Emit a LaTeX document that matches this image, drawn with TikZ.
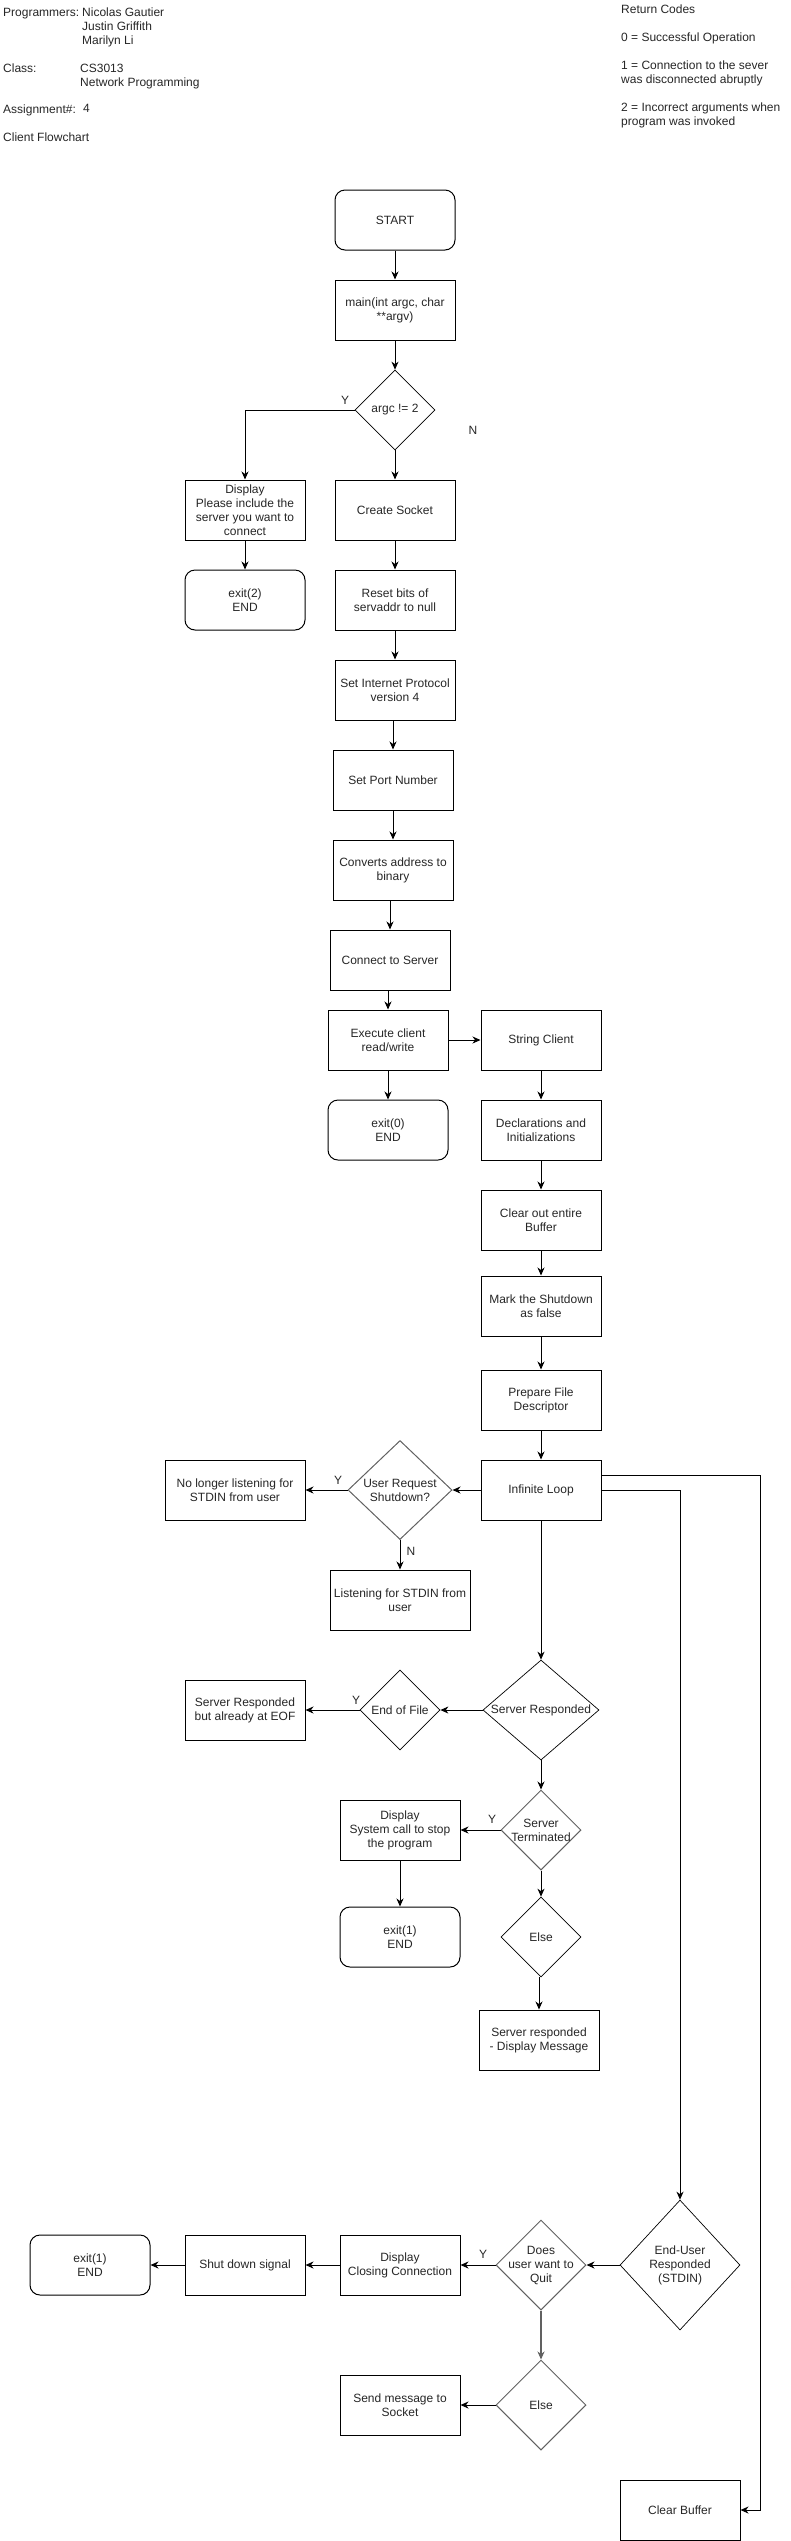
\documentclass[tikz,border=0pt]{standalone}
\usepackage{fontspec}
\setmainfont{Liberation Sans}
\usepackage{tikz}
\usetikzlibrary{shapes.geometric, arrows.meta}
\tikzstyle{startstop} = [rectangle, rounded corners=10pt, 
minimum width=120pt, 
minimum height=60pt,
text centered, align=center, inner sep=0pt,
draw=black, line width=1pt]
\tikzstyle{process} = [rectangle, 
minimum width=120pt, 
minimum height=60pt, 
text centered, align=center, inner sep=0pt,
draw=black, line width=1pt]
\tikzstyle{decision} = [diamond, 
minimum width=80pt, 
minimum height=80pt, 
text centered, align=center,
inner xsep=-15pt, inner ysep=0pt,
draw=black, line width=0.7pt]
\tikzstyle{graydecision} = [decision, draw=black!62, line width=1pt]
\tikzstyle{info} = [anchor=north west, align=left, inner sep=0pt]
\tikzstyle{arrow} = [line width=1pt,->,>={Stealth[length=8pt,width=7pt,inset=2.5pt]}]

\begin{document}
\begin{tikzpicture}[x=1pt, y=-1pt, node distance=90pt,
  font=\fontsize{12}{14}\selectfont, text=black!85]
\useasboundingbox (0,0) rectangle (791,2541);

% header
\node (prog) [info] at (3,8) {Programmers:};
\node (names) [info] at (82,8) {Nicolas Gautier\\Justin Griffith\\Marilyn Li};
\node (cls) [info] at (3,64) {Class:};
\node (course) [info] at (80,64) {CS3013\\Network Programming};
\node (asg) [info] at (3,104.5) {Assignment\#:};
\node (asgno) [info] at (83,104.5) {4};
\node (title) [info] at (3,133) {Client Flowchart};
\node (codes) [info] at (621,5) {Return Codes\\[14pt]0 = Successful Operation\\[14pt]1 = Connection to the sever\\was disconnected abruptly\\[14pt]2 = Incorrect arguments when\\program was invoked};

% setup
\node (start) [startstop] at (395,220) {START};
\node (main) [process, below of=start] {main(int argc, char\\**argv)};
\node (argc) [decision, node distance=100pt, below of=main] {argc != 2};
\node (sock) [process, node distance=100pt, below of=argc] {Create Socket};
\node (disp) [process, node distance=150pt, left of=sock] {Display\\Please include the\\server you want to\\connect};
\node (exit2) [startstop, below of=disp] {exit(2)\\END};
\node (reset) [process, below of=sock] {Reset bits of\\servaddr to null};
\node (ipv4) [process, below of=reset] {Set Internet Protocol\\version 4};
\node (port) [process, below of=ipv4, xshift=-2pt] {Set Port Number};
\node (conv) [process, below of=port] {Converts address to\\binary};
\node (conn) [process, below of=conv, xshift=-3pt] {Connect to Server};
\node (exec) [process, node distance=80pt, below of=conn, xshift=-2pt] {Execute client\\read/write};
\node (exit0) [startstop, below of=exec] {exit(0)\\END};

% string client
\node (strcli) [process, node distance=153pt, right of=exec] {String Client};
\node (decl) [process, below of=strcli] {Declarations and\\Initializations};
\node (clrbuf) [process, below of=decl] {Clear out entire\\Buffer};
\node (mark) [process, node distance=86pt, below of=clrbuf] {Mark the Shutdown\\as false};
\node (prepfd) [process, node distance=94pt, below of=mark] {Prepare File\\Descriptor};
\node (loop) [process, below of=prepfd] {Infinite Loop};

\node (usrshut) [graydecision, minimum width=104pt, minimum height=99pt, node distance=141pt, left of=loop] {User Request\\Shutdown?};
\node (nolisten) [process, minimum width=140pt, node distance=165pt, left of=usrshut] {No longer listening for\\STDIN from user};
\node (listen) [process, minimum width=140pt, node distance=110pt, below of=usrshut] {Listening for STDIN from\\user};

\node (srvresp) [decision, minimum width=116pt, minimum height=100pt, node distance=220pt, below of=loop] {Server Responded};
\node (eof) [decision, node distance=141pt, left of=srvresp] {End of File};
\node (eofmsg) [process, node distance=155pt, left of=eof] {Server Responded\\but already at EOF};
\node (srvterm) [graydecision, node distance=120pt, below of=srvresp] {Server\\Terminated};
\node (sysstop) [process, node distance=141pt, left of=srvterm] {Display\\System call to stop\\the program};
\node (exit1) [startstop, node distance=107pt, below of=sysstop] {exit(1)\\END};
\node (else1) [decision, node distance=107pt, below of=srvterm] {Else};
\node (dispmsg) [process, node distance=103pt, below of=else1, xshift=-2pt] {Server responded\\- Display Message};

\node (enduser) [decision, minimum width=120pt, minimum height=130pt] at (680,2265) {End-User\\Responded\\(STDIN)};
\node (quit) [graydecision, minimum width=90pt, minimum height=90pt, node distance=139pt, left of=enduser] {Does\\user want to\\Quit};
\node (closing) [process, node distance=141pt, left of=quit] {Display\\Closing Connection};
\node (shutsig) [process, node distance=155pt, left of=closing] {Shut down signal};
\node (exit1b) [startstop, node distance=155pt, left of=shutsig] {exit(1)\\END};
\node (else2) [graydecision, minimum width=90pt, minimum height=90pt, node distance=140pt, below of=quit] {Else};
\node (sendmsg) [process, node distance=141pt, left of=else2] {Send message to\\Socket};
\node (flushbuf) [process, node distance=245pt, below of=enduser] {Clear Buffer};

% Y / N
\node (yargc) at (345,400) {Y};
\node (nargc) at (473,430) {N};
\node (yshut) at (338,1480) {Y};
\node (nshut) at (411,1551) {N};
\node (yeof) at (356,1700) {Y};
\node (yterm) at (492,1819) {Y};
\node (yquit) at (483,2254) {Y};

\draw [arrow] (start) -- (main);
\draw [arrow] (main) -- (argc);
\draw [arrow] (argc) -- (sock);
\draw [arrow] (argc.west) -| (disp.north);
\draw [arrow] (disp) -- (exit2);
\draw [arrow] (sock) -- (reset);
\draw [arrow] (reset) -- (ipv4);
\draw [arrow] (ipv4.south -| port.north) -- (port.north);
\draw [arrow] (port) -- (conv);
\draw [arrow] (conv.south -| conn.north) -- (conn.north);
\draw [arrow] (conn.south -| exec.north) -- (exec.north);
\draw [arrow] (exec) -- (exit0);
\draw [arrow] (exec) -- (strcli);
\draw [arrow] (strcli) -- (decl);
\draw [arrow] (decl) -- (clrbuf);
\draw [arrow] (clrbuf) -- (mark);
\draw [arrow] (mark) -- (prepfd);
\draw [arrow] (prepfd) -- (loop);
\draw [arrow] (loop) -- (usrshut);
\draw [arrow] (usrshut) -- (nolisten);
\draw [arrow] (usrshut) -- (listen);
\draw [arrow] (loop) -- (srvresp);
\draw [arrow] (srvresp) -- (eof);
\draw [arrow] (eof) -- (eofmsg);
\draw [arrow] (srvresp) -- (srvterm);
\draw [arrow] (srvterm) -- (sysstop);
\draw [arrow] (sysstop) -- (exit1);
\draw [arrow] (srvterm) -- (else1);
\draw [arrow] (else1.south -| dispmsg.north) -- (dispmsg.north);
\draw [arrow] (loop.east) -| (enduser.north);
\draw [arrow] ([yshift=15pt]loop.east) -- ++(159,0) |- (flushbuf);
\draw [arrow] (enduser) -- (quit);
\draw [arrow] (quit) -- (closing);
\draw [arrow] (closing) -- (shutsig);
\draw [arrow] (shutsig) -- (exit1b);
\draw [arrow, draw=black!62, line width=1.6pt] (quit) -- (else2);
\draw [arrow] (else2) -- (sendmsg);

\end{tikzpicture}
\end{document}
